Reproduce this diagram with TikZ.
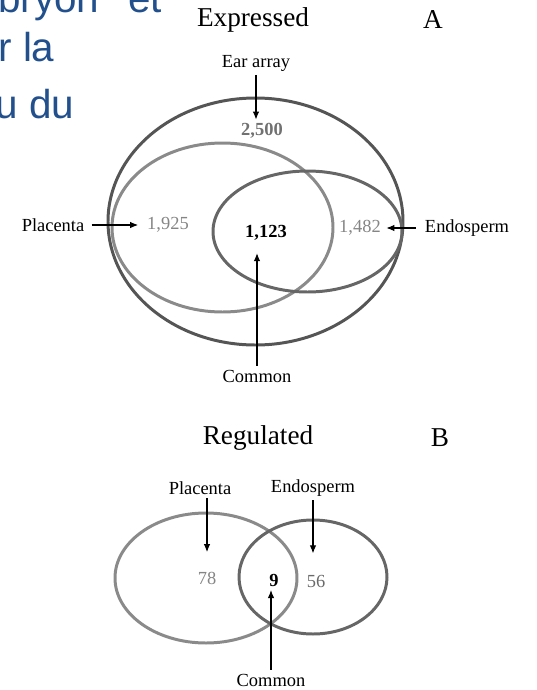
\documentclass[tikz,border=0pt]{standalone}
\usepackage{fontspec}
\setmainfont{Liberation Serif}
\newfontfamily\slidefont{Liberation Sans}
\usepackage{xcolor}
\usetikzlibrary{arrows.meta, positioning}
\definecolor{slideblue}{HTML}{22508C}
\definecolor{ringdark}{HTML}{555555}
\definecolor{ringmid}{HTML}{666666}
\definecolor{ringlight}{HTML}{8A8A8A}
\definecolor{numgray}{HTML}{858585}

\begin{document}
\begin{tikzpicture}[x=0.02cm, y=-0.02cm,
    ring/.style={line width=1.7pt},
    title/.style={font=\fontsize{15.5}{18}\selectfont, inner sep=1pt},
    lbl/.style={font=\fontsize{10.5}{12}\selectfont, inner sep=2pt},
    num/.style={font=\fontsize{10.5}{12}\selectfont, inner sep=2pt, text=numgray},
    numb/.style={num, font=\bfseries\fontsize{10.5}{12}\selectfont},
    arrow/.style={-{Latex[length=1.6mm, width=1.3mm]}, line width=0.6pt},
    slide/.style={font=\slidefont\fontsize{23}{27}\selectfont, text=slideblue, anchor=base west, inner sep=0pt}
]
\useasboundingbox (0,0) rectangle (537,690);

% cut-off slide text
\node[slide] (s1) at (-2,12) {bryon\hspace{16.5pt}et};
\node[slide] (s2) at (-2,61) {r la};
\node[slide] (s3) at (-5,118) {u du};

% A: expressed
\draw[ring, draw=ringdark] (255.5,221.5) ellipse [x radius=147.5, y radius=123.5];
\draw[ring, draw=ringlight] (222.5,227.5) ellipse [x radius=110.5, y radius=84.5];
\draw[ring, draw=ringmid] (307.5,231.5) ellipse [x radius=94.5, y radius=60.5];

\node[title] (expr) at (253,20) {Expressed};
\node[title] (labA) at (433,20) {A};
\node[lbl] (ear) at (256,63) {Ear array};
\node[numb, text=numgray!85!black] (n2500) at (262,131) {2,500};
\node[lbl] (plA) at (53,225) {Placenta};
\node[num] (n1925) at (168,225) {1,925};
\node[numb, text=black] (n1123) at (266,233) {1,123};
\node[num] (n1482) at (360,228) {1,482};
\node[lbl] (enA) at (467,228) {Endosperm};
\node[lbl] (comA) at (257,376) {Common};

\draw[arrow] (ear) -- (ear |- n2500.north);
\draw[arrow, shorten <=2pt, shorten >=3pt] (plA) -- (n1925);
\draw[arrow, shorten <=3pt, shorten >=1pt] (enA) -- (n1482);
\draw[arrow, shorten >=5pt] (comA) -- (comA |- n1123.south);

% B: regulated
\draw[ring, draw=ringlight] (206,578) ellipse [x radius=91, y radius=65];
\draw[ring, draw=ringmid] (313,577) ellipse [x radius=74, y radius=57];

\node[title] (reg) at (258,438) {Regulated};
\node[title] (labB) at (440,438) {B};
\node[lbl] (plB) at (200,488) {Placenta};
\node[lbl] (enB) at (313,488) {Endosperm};
\node[num] (n78) at (207,578) {78};
\node[numb, text=black] (n9) at (274,580) {9};
\node[num, text=numgray!80!black] (n56) at (316,581) {56};
\node[lbl] (comB) at (271,680) {Common};

\draw[arrow, shorten >=9pt] (n78 |- plB.south) -- (n78.north);
\draw[arrow, shorten >=10pt] (enB) -- (enB |- n56.north);
\draw[arrow] (comB) -- (comB |- n9.south);

\end{tikzpicture}
\end{document}
